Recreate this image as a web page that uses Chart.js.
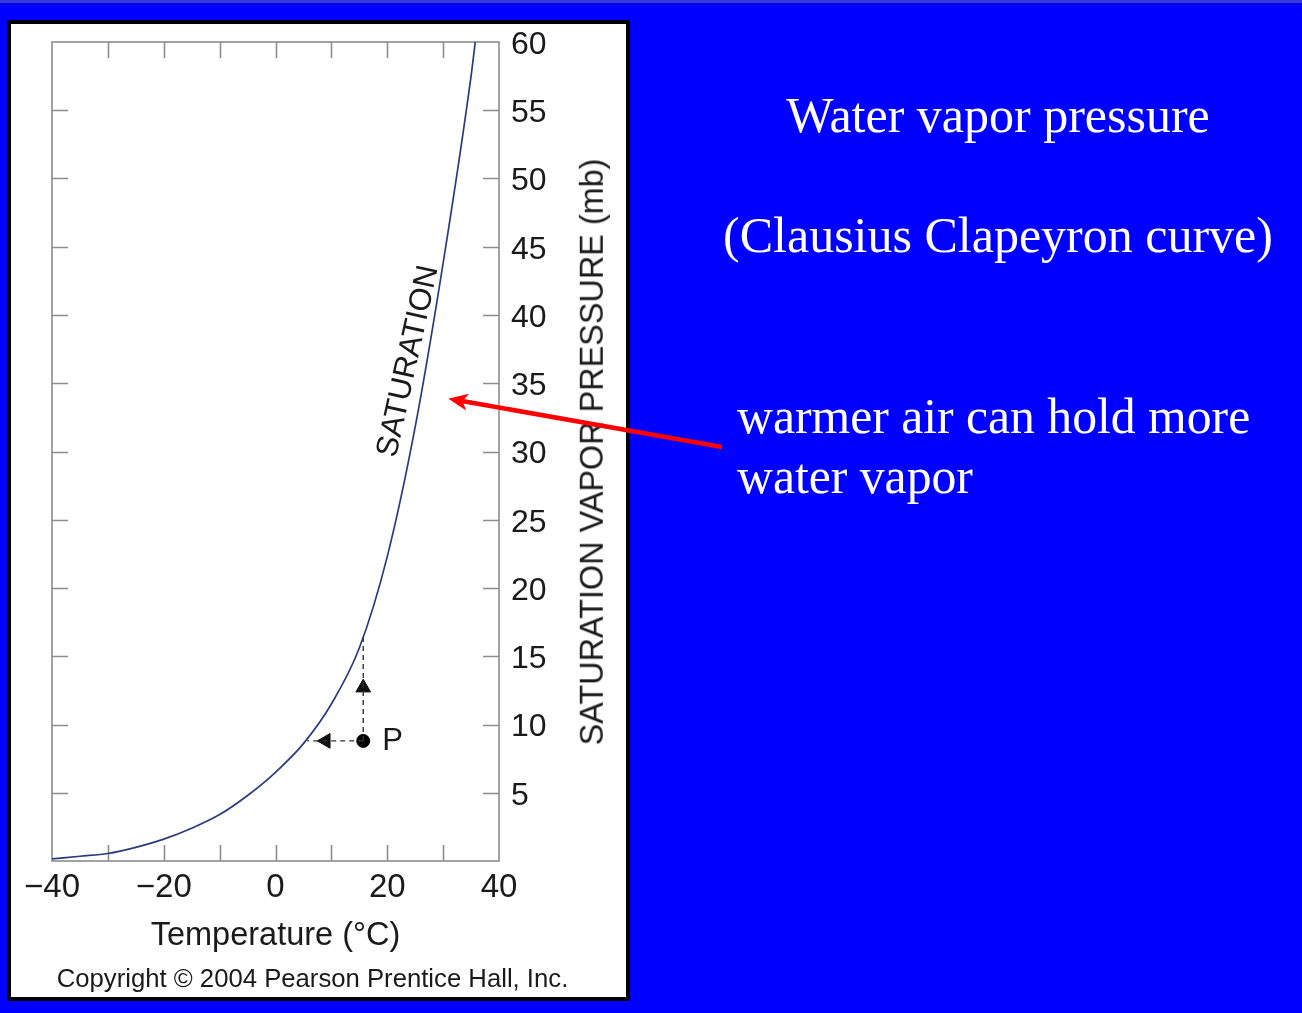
<!DOCTYPE html>
<html>
<head>
<meta charset="utf-8">
<script src="https://cdn.jsdelivr.net/npm/chart.js@4.4.1/dist/chart.umd.min.js"></script>
<style>
html,body{margin:0;padding:0;width:1302px;height:1013px;overflow:hidden;background:#0000ff;}
#topstrip{position:absolute;left:0;top:0;width:1302px;height:3px;background:#3a3ad2;}
#panel{position:absolute;left:7px;top:20px;width:615px;height:973px;background:#fff;border:4px solid #000;border-radius:3px;}
#wrap{position:absolute;left:0;top:0;width:1302px;height:1013px;}
#arrow{position:absolute;left:0;top:0;width:1302px;height:1013px;pointer-events:none;}
.slide{position:absolute;color:#fff;font-family:"Liberation Serif","Times New Roman",serif;font-size:50px;white-space:nowrap;line-height:1;}
.fig{position:absolute;color:#1a1a1a;font-family:"Liberation Sans",Arial,Helvetica,sans-serif;white-space:nowrap;line-height:1;}
</style>
</head>
<body>
<div id="topstrip"></div>
<div id="panel"></div>
<div id="wrap"><canvas id="c" width="1302" height="1013"></canvas></div>
<div class="fig" id="ytitle" style="left:592px;top:452px;font-size:32.4px;transform:translate(-50%,-50%) rotate(-90deg);">SATURATION VAPOR PRESSURE (mb)</div>
<div class="fig" id="copy" style="left:0;width:625px;text-align:center;top:966px;font-size:25.7px;">Copyright © 2004 Pearson Prentice Hall, Inc.</div>
<div class="slide" style="left:698px;width:600px;text-align:center;top:90px;">Water vapor pressure</div>
<div class="slide" style="left:698px;width:600px;text-align:center;top:210px;">(Clausius Clapeyron curve)</div>
<div class="slide" style="left:737px;top:392px;font-size:49.7px;">warmer air can hold more</div>
<div class="slide" style="left:737px;top:452px;font-size:49.7px;">water vapor</div>
<svg id="arrow" viewBox="0 0 1302 1013">
  <line x1="722" y1="447" x2="462" y2="401" stroke="#ff0000" stroke-width="4.5"/>
  <polygon points="450,399 464.6,408.7 461.8,401.1 467,394.9" fill="#ff0000" stroke="#ff0000" stroke-width="1.5"/>
</svg>
<script>
// ---- data ----
const temperatureC = [-40, -35, -30, -25, -20, -15, -10, -5, 0, 5, 10, 15, 20, 25, 30, 35, 35.75];
const saturationMb = [0.15, 0.35, 0.55, 1.0, 1.6, 2.4, 3.4, 4.8, 6.5, 8.6, 11.5, 15.6, 22.3, 31.8, 43.8, 57.5, 60];
const xLabelValues = [-40, -20, 0, 20, 40];
const xTickLabels = ['\u221240', '\u221220', '0', '20', '40'];
const yTickValues = [5, 10, 15, 20, 25, 30, 35, 40, 45, 50, 55, 60];
const pointP = [15.7, 8.8];          // temperature, vapor pressure of air parcel P
const saturationAtP = 16.4;          // curve value straight above P
const dewPointC = 5.7;               // curve temperature level with P
const arrowUpAt = 12.7;              // vapor pressure where the upward arrowhead sits
const arrowLeftAt = 9.0;             // temperature where the leftward arrowhead sits

const FONT = "'Liberation Sans', Arial, Helvetica, sans-serif";
const AXIS = '#8c8c8c';
const INK = '#1a1a1a';
const TICK = 16;

const frameTicks = {
  id: 'frameTicks',
  beforeDatasetsDraw(chart) {
    const {ctx, chartArea: a, scales: {x, y}} = chart;
    ctx.save();
    ctx.strokeStyle = AXIS;
    ctx.lineWidth = 1.6;
    ctx.strokeRect(a.left, a.top, a.right - a.left, a.bottom - a.top);
    ctx.beginPath();
    x.ticks.forEach(t => {
      if (t.value <= x.min || t.value >= x.max) return;
      const px = Math.round(x.getPixelForValue(t.value)) + 0.5;
      ctx.moveTo(px, a.bottom); ctx.lineTo(px, a.bottom - TICK);
      ctx.moveTo(px, a.top); ctx.lineTo(px, a.top + TICK);
    });
    y.ticks.forEach(t => {
      if (t.value <= y.min || t.value >= y.max) return;
      const py = Math.round(y.getPixelForValue(t.value)) + 0.5;
      ctx.moveTo(a.left, py); ctx.lineTo(a.left + TICK, py);
      ctx.moveTo(a.right, py); ctx.lineTo(a.right - TICK, py);
    });
    ctx.stroke();
    ctx.restore();
  }
};

const labels = {
  id: 'labels',
  afterDatasetsDraw(chart) {
    const {ctx, scales: {x, y}} = chart;
    ctx.save();
    ctx.fillStyle = INK;
    // SATURATION along the curve
    ctx.translate(x.getPixelForValue(23.8), y.getPixelForValue(36.6));
    ctx.rotate(-77.5 * Math.PI / 180);
    ctx.font = '31px ' + FONT;
    ctx.textAlign = 'center';
    ctx.textBaseline = 'middle';
    ctx.fillText('SATURATION', 0, 0);
    ctx.restore();
    ctx.save();
    ctx.fillStyle = INK;
    ctx.font = '31px ' + FONT;
    ctx.textAlign = 'left';
    ctx.textBaseline = 'middle';
    ctx.fillText('P', x.getPixelForValue(pointP[0]) + 19, y.getPixelForValue(pointP[1]) + 1);
    ctx.restore();
  }
};

const curve = temperatureC.map((t, i) => ({x: t, y: saturationMb[i]}));
const dash = {borderColor: '#333', borderWidth: 1.4, borderDash: [5, 4], pointRadius: 0, fill: false, tension: 0};

new Chart(document.getElementById('c'), {
  type: 'line',
  data: {
    datasets: [
      {data: curve, borderColor: '#2b3c7e', borderWidth: 1.7, pointRadius: 0, fill: false, tension: 0.4, cubicInterpolationMode: 'monotone'},
      Object.assign({data: [{x: pointP[0], y: pointP[1]}, {x: pointP[0], y: saturationAtP}]}, dash),
      Object.assign({data: [{x: pointP[0], y: pointP[1]}, {x: dewPointC, y: pointP[1]}]}, dash),
      {data: [{x: pointP[0], y: arrowUpAt}], showLine: false, pointStyle: 'triangle', pointRadius: 8.5, pointRotation: 0, backgroundColor: '#111', borderColor: '#111'},
      {data: [{x: arrowLeftAt, y: pointP[1]}], showLine: false, pointStyle: 'triangle', pointRadius: 8.5, pointRotation: -90, backgroundColor: '#111', borderColor: '#111'},
      {data: [{x: pointP[0], y: pointP[1]}], showLine: false, pointStyle: 'circle', pointRadius: 6.5, backgroundColor: '#000', borderColor: '#000'}
    ]
  },
  options: {
    responsive: false,
    devicePixelRatio: 1,
    animation: false,
    events: [],
    layout: {padding: {left: 52, top: 42, right: 743, bottom: 57}},
    plugins: {legend: {display: false}, tooltip: {enabled: false}},
    scales: {
      x: {
        type: 'linear', position: 'bottom', min: -40, max: 40,
        grid: {display: false, drawTicks: false}, border: {display: false},
        ticks: {stepSize: 10, autoSkip: false, maxRotation: 0, padding: 7, color: INK, font: {family: FONT, size: 33},
          callback: v => { const i = xLabelValues.indexOf(v); return i < 0 ? '' : xTickLabels[i]; }},
        title: {display: true, text: 'Temperature (°C)', color: INK, font: {family: FONT, size: 32.5}, padding: {top: 0, bottom: 0}},
        afterFit: s => { s.height = 95; }
      },
      y: {
        type: 'linear', position: 'right', min: 0, max: 60,
        grid: {display: false, drawTicks: false}, border: {display: false},
        ticks: {stepSize: 5, autoSkip: false, padding: 12, labelOffset: 3, color: INK, font: {family: FONT, size: 32},
          callback: v => yTickValues.includes(v) ? String(v) : ''},
        afterFit: s => { s.width = 60; }
      }
    }
  },
  plugins: [frameTicks, labels]
});
</script>
</body>
</html>
